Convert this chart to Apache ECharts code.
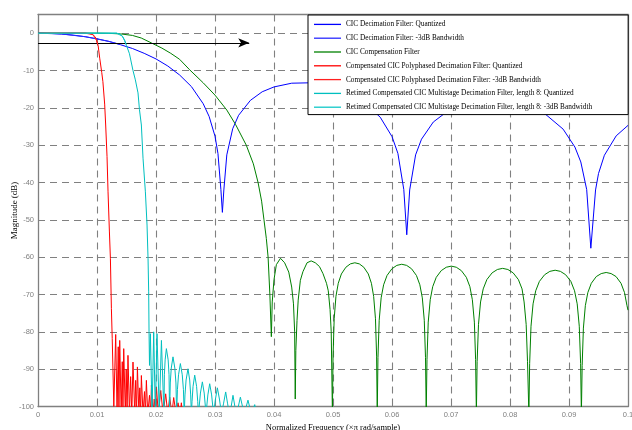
<!DOCTYPE html>
<html>
<head>
<meta charset="utf-8">
<script src="https://cdn.jsdelivr.net/npm/echarts@6/dist/echarts.min.js"></script>
<style>
html,body{margin:0;padding:0;background:#fff;}
#chart{width:632px;height:430px;}
</style>
</head>
<body>
<div id="chart"></div>
<script>
// ---- Data (normalized frequency, magnitude dB) ----
const seriesNames = [
  'CIC Decimation Filter: Quantized',
  'CIC Decimation Filter: -3dB Bandwidth',
  'CIC Compensation Filter',
  'Compensated CIC Polyphased Decimation Filter: Quantized',
  'Compensated CIC Polyphased Decimation Filter: -3dB Bandwidth',
  'Retimed Compensated CIC Multistage Decimation Filter, length 8: Quantized',
  'Retimed Compensated CIC Multistage Decimation Filter, length 8: -3dB Bandwidth'
];
const xTicks = [0, 0.01, 0.02, 0.03, 0.04, 0.05, 0.06, 0.07, 0.08, 0.09, 0.1];
const yTicks = [-100, -90, -80, -70, -60, -50, -40, -30, -20, -10, 0];

const cicQuantized = [[0,0],[0.002,-0.06],[0.004,-0.23],[0.006,-0.53],[0.008,-0.95],[0.010,-1.5],[0.012,-2.2],[0.014,-3.1],[0.016,-4.1],[0.018,-5.4],[0.020,-6.9],[0.022,-8.8],[0.024,-11.2],[0.026,-14.3],[0.028,-18.9],[0.029,-22.3],[0.030,-27.6],[0.0305,-32.2],[0.031,-41.9],[0.03125,-48],[0.0315,-42],[0.032,-32.6],[0.033,-25.6],[0.034,-22],[0.036,-18],[0.038,-15.7],[0.040,-14.4],[0.043,-13.4],[0.046,-13.3],[0.049,-14.1],[0.052,-15.6],[0.055,-18.2],[0.058,-22.5],[0.060,-27.7],[0.061,-32.2],[0.062,-41.9],[0.0625,-54],[0.063,-42],[0.064,-32.6],[0.065,-28.4],[0.067,-23.8],[0.070,-20.2],[0.073,-18.5],[0.076,-17.9],[0.078,-17.9],[0.080,-18.3],[0.083,-19.5],[0.086,-21.7],[0.089,-25.7],[0.091,-30.5],[0.092,-34.5],[0.093,-41.9],[0.0937,-57.6],[0.0945,-42],[0.095,-37.6],[0.096,-32.7],[0.098,-27.5],[0.100,-24.7]];
const cicBandwidth = [[0,0],[0.004,-0.23],[0.008,-0.95],[0.012,-2.2],[0.0139,-3.0]];

const compFilter = [[0,0],[0.005,0],[0.010,0],[0.012,-0.05],[0.014,-0.2],[0.016,-0.6],[0.0175,-1.3],[0.0192,-2.6],[0.021,-4.0],[0.0225,-5.4],[0.024,-7.0],[0.0257,-9.8],[0.028,-13.3],[0.030,-16.6],[0.032,-20.6],[0.0335,-24.5],[0.0353,-30],[0.0365,-35],[0.0373,-40],[0.0379,-45],[0.0383,-50],[0.0387,-55],[0.0390,-60],[0.0393,-70],[0.03955,-81.3],
  [0.0397,-72],[0.0400,-66],[0.0404,-62],[0.0411,-60.3],[0.0418,-61.5],[0.0425,-64],[0.0430,-68],[0.0433,-72.5],[0.0435,-80],[0.0436,-98],
  [0.0437,-85],[0.0439,-77],[0.0441,-71.5],[0.04447,-66.2],[0.0449,-63.9],[0.0456,-61.5],[0.0463,-61],[0.0470,-61.5],[0.0477,-62.5],[0.0483,-64.4],[0.0489,-67],[0.0492,-69],[0.0495,-74],[0.0497,-80],[0.0499,-102],
  [0.05001,-86.5],[0.0502,-76.5],[0.0505,-70.5],[0.05089,-67],[0.05142,-64.5],[0.05218,-62.7],[0.05294,-61.8],[0.0537,-61.5],[0.05446,-61.8],[0.05522,-62.7],[0.05598,-64.5],[0.05651,-67],[0.05689,-70.5],[0.0572,-76.5],[0.05739,-86.5],[0.0575,-102],
  [0.05762,-86.9],[0.05783,-76.9],[0.05816,-70.9],[0.05858,-67.4],[0.05916,-64.9],[0.05999,-63.1],[0.06082,-62.2],[0.06165,-61.9],[0.06248,-62.2],[0.06331,-63.1],[0.06414,-64.9],[0.06472,-67.4],[0.06514,-70.9],[0.06547,-76.9],[0.06568,-86.9],[0.0658,-102],
  [0.06593,-87.4],[0.06614,-77.4],[0.06648,-71.4],[0.0669,-67.9],[0.0675,-65.4],[0.06835,-63.6],[0.0692,-62.7],[0.07005,-62.4],[0.0709,-62.7],[0.07175,-63.6],[0.0726,-65.4],[0.0732,-67.9],[0.07362,-71.4],[0.07396,-77.4],[0.07417,-87.4],[0.0743,-102],
  [0.07443,-88],[0.07466,-78],[0.07501,-72],[0.07546,-68.5],[0.07608,-66],[0.07697,-64.2],[0.07786,-63.3],[0.07875,-63],[0.07964,-63.3],[0.08053,-64.2],[0.08142,-66],[0.08204,-68.5],[0.08239,-72],[0.08274,-78],[0.08297,-88],[0.0832,-102],
  [0.08333,-88.5],[0.08356,-78.5],[0.08391,-72.5],[0.08436,-69],[0.08498,-66.5],[0.08587,-64.7],[0.08676,-63.8],[0.08765,-63.5],[0.08854,-63.8],[0.08943,-64.7],[0.09032,-66.5],[0.09094,-69],[0.09139,-72.5],[0.09174,-78.5],[0.09197,-88.5],[0.0921,-102],
  [0.09223,-89],[0.09244,-79],[0.09277,-73],[0.09319,-69.5],[0.09378,-67],[0.09462,-65.2],[0.09546,-64.4],[0.0963,-64.1],[0.09714,-64.4],[0.09798,-65.2],[0.09882,-67],[0.09941,-69.5],[0.09983,-73],[0.1,-74.2]];

const polyQuantized = [[0,0],[0.004,0],[0.008,0],[0.0088,-0.1],[0.0093,-0.4],[0.0097,-1.0],[0.0099,-1.8],[0.0102,-3.4],[0.01046,-6.7],[0.0108,-10.5],[0.011,-13],[0.0113,-19],[0.01147,-24.6],[0.0117,-33],[0.01187,-42.5],[0.0121,-53],[0.01227,-60.3],[0.01244,-73.8],[0.01258,-81.8],
  [0.0127,-82],[0.01285,-100],[0.01317,-80.7],[0.0134,-102],[0.0136,-84],[0.01372,-102],[0.01385,-82.3],[0.0141,-102],[0.01428,-88],[0.0144,-102],[0.01453,-84.5],[0.0148,-102],[0.01495,-90],[0.0151,-102],[0.01525,-86.3],[0.0155,-102],[0.0157,-92],[0.0159,-102],[0.0161,-88.1],[0.0164,-102],[0.01655,-93],[0.0167,-102],[0.01685,-89.4],[0.0171,-102],[0.01725,-95],[0.0174,-102],[0.01752,-91.7],[0.0178,-102],[0.01805,-96],[0.0182,-102],[0.01837,-93],[0.0186,-102],[0.0189,-97],[0.0191,-102],[0.01922,-94.3],[0.0195,-102],[0.0197,-98],[0.0199,-102],[0.02007,-94.8],[0.0204,-102],[0.0208,-95.7],[0.0212,-102],[0.02164,-96.6],[0.022,-102],[0.02232,-97.5],[0.0227,-102],[0.023,-97.6],[0.0234,-102],[0.02373,-99],[0.0241,-102],[0.0243,-99],[0.0246,-104],[0.026,-110]];
const polyBandwidth = [[0,0],[0.008,0],[0.0093,-0.4],[0.0099,-1.8],[0.0101,-3.0]];

const multiQuantized = [[0,0],[0.005,0],[0.010,0],[0.0133,0],[0.0138,-0.2],[0.0143,-0.8],[0.0147,-2.0],[0.015,-3.3],[0.0155,-5.5],[0.0161,-10],[0.0165,-12.5],[0.01695,-16],[0.0172,-20.5],[0.01752,-24.6],[0.0178,-33.5],[0.0182,-42.5],[0.01848,-51.4],[0.01865,-60.3],[0.01876,-69.3],[0.01882,-80],[0.0189,-89],
  [0.01905,-80.5],[0.01933,-102],[0.01961,-80],[0.01989,-102],[0.02017,-80.5],[0.02055,-102],[0.02092,-82.3],[0.02134,-102],
  [0.02142,-91.5],[0.02155,-87.5],[0.02176,-84.5],[0.02206,-87.5],[0.02221,-91.5],[0.0223,-102],
  [0.02242,-93.7],[0.02259,-89.7],[0.02288,-86.7],[0.02319,-89.7],[0.02338,-93.7],[0.0235,-102],
  [0.02363,-95.5],[0.02382,-91.5],[0.02413,-88.5],[0.02445,-91.5],[0.02465,-95.5],[0.02478,-102],
  [0.02491,-96.9],[0.0251,-92.9],[0.02542,-89.9],[0.02571,-92.9],[0.02588,-96.9],[0.026,-102],
  [0.02611,-98.6],[0.02628,-94.6],[0.02656,-91.6],[0.02688,-94.6],[0.02707,-98.6],[0.0272,-102],
  [0.02753,-96.4],[0.02786,-93.4],[0.02817,-96.4],[0.02848,-102],
  [0.02879,-96.9],[0.0291,-93.9],[0.02943,-96.9],[0.02975,-102],
  [0.03008,-98],[0.0304,-95],[0.03075,-98],[0.0311,-102],
  [0.03146,-99.1],[0.03181,-96.1],[0.03212,-99.1],[0.03243,-102],
  [0.03274,-100],[0.03305,-97],[0.03337,-100],[0.03368,-102],
  [0.0343,-97.5],[0.03495,-102],[0.03559,-98.3],[0.03616,-102],[0.03673,-99.5],[0.0373,-104],[0.038,-110]];
const multiBandwidth = [[0,0],[0.0133,0],[0.0143,-0.8],[0.0147,-2.0],[0.0149,-3.0]];

const arrowLine = [[0,-2.6],[0.0358,-2.6]];

const seriesData = [cicQuantized, cicBandwidth, compFilter, polyQuantized, polyBandwidth, multiQuantized, multiBandwidth];
const seriesColors = ['#0000ff','#2a2aff','#008000','#ff0000','#ff2020','#00bfbf','#10c8c8'];

// ---- Chart ----
const chart = echarts.init(document.getElementById('chart'), null, {renderer:'canvas'});
const gray = '#808080';
const tickFmt = v => String(+(+v).toFixed(3));
const grid = {left:38, right:4, top:14.5, bottom:23.5, containLabel:false, outerBoundsMode:'none'};

const series = seriesNames.map((n,i)=>({
  name:n, type:'line', data:seriesData[i], symbol:'none', showSymbol:false,
  lineStyle:{color:seriesColors[i], width:1}, itemStyle:{color:seriesColors[i]},
  clip:true, animation:false, z:2+i
}));
series.push({
  name:'arrow', type:'line', data:[], symbol:'none', animation:false,
  markLine:{silent:true, animation:false, symbol:['none','arrow'], symbolSize:[7,11],
    label:{show:false}, lineStyle:{color:'#000', width:1.2, type:'solid'},
    emphasis:{disabled:true},
    data:[[{coord:arrowLine[0]},{coord:arrowLine[1]}]]},
  z:20
});

chart.setOption({
  animation:false,
  backgroundColor:'#fff',
  grid:grid,
  legend:{
    data:seriesNames.map((n,i)=>({name:n, icon:'rect', itemStyle:{color:seriesColors[i]}})),
    orient:'vertical', left:308, top:15,
    backgroundColor:'#fff', borderColor:'#000', borderWidth:1,
    padding:[5,36,3,6], itemWidth:27, itemHeight:1.3, itemGap:5,
    textStyle:{fontFamily:'Liberation Serif', fontSize:7.3, color:'#000', lineHeight:8.8},
    selectedMode:false, z:30
  },
  xAxis:[{
    type:'value', min:0, max:0.1, interval:0.01, position:'bottom',
    name:'Normalized Frequency (×π rad/sample)', nameLocation:'middle', nameGap:16.5,
    nameMoveOverlap:false,
    nameTextStyle:{fontFamily:'Liberation Serif', fontSize:8.5, color:'#000'},
    axisLine:{show:true, onZero:false, lineStyle:{color:gray, width:1.3}},
    axisTick:{show:true, inside:true, length:4, lineStyle:{color:gray}},
    axisLabel:{fontFamily:'Liberation Sans', fontSize:7.5, color:gray, margin:4, formatter:tickFmt},
    splitLine:{show:true, showMinLine:false, showMaxLine:false, lineStyle:{color:gray, type:[7,5], width:1.1}}
  },{
    type:'value', min:0, max:0.1, interval:0.01, position:'top',
    axisLine:{show:true, onZero:false, lineStyle:{color:gray, width:1.3}},
    axisTick:{show:true, inside:true, length:4, lineStyle:{color:gray}},
    axisLabel:{show:false}, splitLine:{show:false}
  }],
  yAxis:[{
    type:'value', min:-100, max:5, interval:10, position:'left',
    name:'Magnitude (dB)', nameLocation:'middle', nameGap:18.5,
    nameMoveOverlap:false,
    nameTextStyle:{fontFamily:'Liberation Serif', fontSize:9, color:'#000'},
    axisLine:{show:true, onZero:false, lineStyle:{color:gray, width:1.3}},
    axisTick:{show:true, inside:true, length:4, lineStyle:{color:gray}},
    axisLabel:{fontFamily:'Liberation Sans', fontSize:7.5, color:gray, margin:4, showMaxLabel:false, formatter:tickFmt},
    splitLine:{show:true, showMinLine:false, showMaxLine:false, lineStyle:{color:gray, type:[7,5], width:1.1}}
  },{
    type:'value', min:-100, max:5, interval:10, position:'right',
    axisLine:{show:true, onZero:false, lineStyle:{color:gray, width:1.3}},
    axisTick:{show:true, inside:true, length:4, lineStyle:{color:gray}},
    axisLabel:{show:false}, splitLine:{show:false}
  }],
  series:series
});
</script>
</body>
</html>
